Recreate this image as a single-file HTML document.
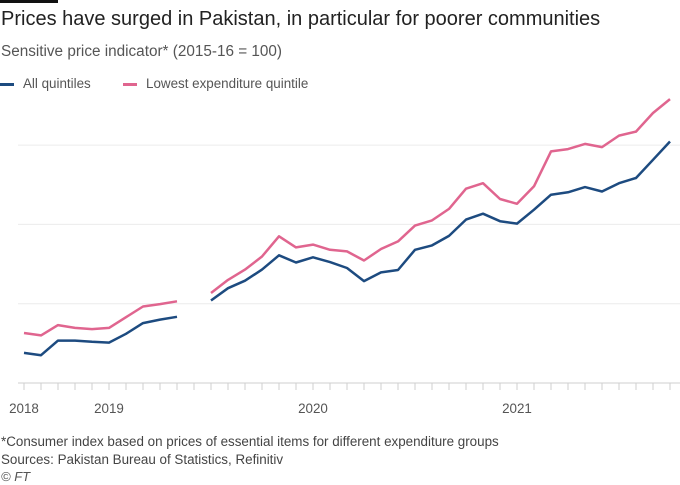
<!DOCTYPE html>
<html><head><meta charset="utf-8">
<style>
body{margin:0;background:#fff;font-family:"Liberation Sans",sans-serif;}
#wrap{position:relative;width:680px;height:485px;overflow:hidden;background:#fff;}
.t{position:absolute;white-space:nowrap;}
</style></head>
<body>
<div id="wrap">
<div style="position:absolute;left:0;top:0;width:58px;height:3px;background:#111;"></div>
<div class="t" style="left:1px;top:8px;font-size:20px;color:#222;">Prices have surged in Pakistan, in particular for poorer communities</div>
<div class="t" style="left:1px;top:43px;font-size:15.3px;color:#555;">Sensitive price indicator* (2015-16 = 100)</div>
<div>
<div style="position:absolute;left:0;top:83px;width:14px;height:3px;background:#1d4b80;"></div>
<div class="t" style="left:23px;top:76px;font-size:13.4px;color:#555;">All quintiles</div>
<div style="position:absolute;left:123px;top:83px;width:14px;height:3px;background:#e0658f;"></div>
<div class="t" style="left:146px;top:76px;font-size:13.4px;color:#555;">Lowest expenditure quintile</div>
</div>
<svg id="chart" width="680" height="485" style="position:absolute;left:0;top:0;"></svg>
<div class="t" style="left:1px;top:434px;font-size:13.4px;color:#444;">*Consumer index based on prices of essential items for different expenditure groups</div>
<div class="t" style="left:1px;top:452px;font-size:13.4px;color:#444;">Sources: Pakistan Bureau of Statistics, Refinitiv</div>
<div class="t" style="left:1px;top:469px;font-size:13px;color:#555;font-style:italic;">© FT</div>
</div>
<script>
const allQuintiles=[107.6,107.0,110.7,110.7,110.4,110.2,112.4,115.1,116.0,116.7,null,120.8,123.9,125.8,128.6,132.2,130.4,131.7,130.5,129.0,125.7,127.9,128.5,133.6,134.7,137.1,141.2,142.7,140.8,140.2,143.7,147.5,148.1,149.4,148.3,150.4,151.7,156.3,160.9];
const lowestQuintile=[112.6,112.0,114.6,113.9,113.6,113.9,116.6,119.3,119.9,120.6,null,122.7,126.0,128.6,131.9,137.0,134.2,134.9,133.6,133.2,130.9,133.8,135.7,139.7,141.0,143.9,149.0,150.4,146.4,145.2,149.6,158.4,159.0,160.3,159.5,162.4,163.4,168.1,171.6];
const yTicks=[100,120,140,160];
const xLabels=["2018","2019","2020","2021"];
const xLabelIdx=[0,5,17,29];
const NS="http://www.w3.org/2000/svg";
const svg=document.getElementById('chart');
const x0=24,x1=670,n=allQuintiles.length;
function xs(i){return x0+(x1-x0)*i/(n-1);}
function ys(v){return 383-(v-100)*(79.3/20);}
function mk(t,a){const e=document.createElementNS(NS,t);for(const k in a)e.setAttribute(k,a[k]);svg.appendChild(e);return e;}
yTicks.forEach(v=>{
 const l=mk('line',{x1:18,x2:680,y1:ys(v),y2:ys(v),stroke:v===100?'#cfcfcf':'#ececec','stroke-width':1});
 
 
});
for(let i=0;i<n;i++){
 const t=mk('line',{x1:xs(i),x2:xs(i),y1:383,y2:390,stroke:'#cfcfcf','stroke-width':1});
 
 
}
xLabels.forEach((s,k)=>{
 const t=mk('text',{x:xs(xLabelIdx[k]),y:413,'text-anchor':'middle','font-size':13.4,fill:'#555','font-family':'Liberation Sans, sans-serif'});
 t.textContent=s;
 
 
});
function series(data,color,name){
 let d='',pen=false;
 data.forEach((v,i)=>{if(v===null){pen=false;return;}d+=(pen?'L':'M')+xs(i).toFixed(1)+' '+ys(v).toFixed(1);pen=true;});
 const p=mk('path',{d:d,fill:'none',stroke:color,'stroke-width':2.5,'stroke-linejoin':'round'});
 
 
}
series(lowestQuintile,'#e0658f','line-lowest-quintile');
series(allQuintiles,'#1d4b80','line-all-quintiles');
</script>
</body></html>
